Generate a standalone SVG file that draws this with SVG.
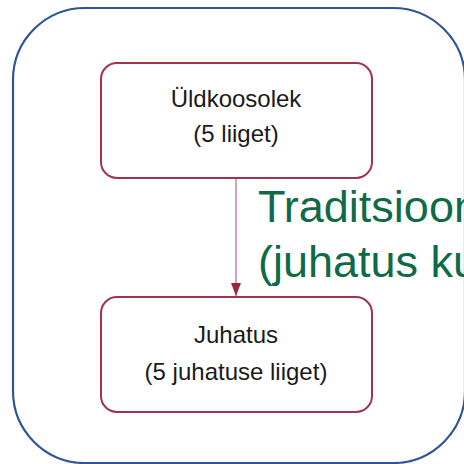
<svg xmlns="http://www.w3.org/2000/svg" width="464" height="464" viewBox="0 0 464 464">
<style>
.node rect{fill:#fff;stroke:#a5324d;stroke-width:2}
.nt{font-family:"Liberation Sans",Arial,sans-serif;font-size:24px;fill:#1a1a1a;text-anchor:middle}
.gt{font-family:"Liberation Sans",Arial,sans-serif;font-size:45px;fill:#0f6b47}
</style>
<defs>
<marker id="ah" markerWidth="13" markerHeight="10" refX="13" refY="5" orient="auto" markerUnits="userSpaceOnUse" viewBox="0 0 13 10">
<path d="M0,0 L13,5 L0,10 Z" fill="#9c2541"/>
</marker>
</defs>
<rect x="0" y="0" width="464" height="464" fill="#fff"/>
<rect id="frame" x="13" y="8" width="452" height="455" rx="72" fill="none" stroke="#2f5597" stroke-width="2.2"/>
<g id="connectors">
<line x1="236" y1="179" x2="236" y2="296" stroke="#d58a9c" stroke-width="1.6" marker-end="url(#ah)"/>
</g>
<g id="n1" class="node">
<rect x="101" y="63" width="271" height="115" rx="16"/>
<text class="nt" x="236" y="107">Üldkoosolek</text>
<text class="nt" x="236" y="142">(5 liiget)</text>
</g>
<g id="n2" class="node">
<rect x="101" y="297" width="271" height="115" rx="16"/>
<text class="nt" x="236" y="343">Juhatus</text>
<text class="nt" x="236" y="380">(5 juhatuse liiget)</text>
</g>
<g id="label">
<text class="gt" x="258" y="222">Traditsioon</text>
<text class="gt" x="258" y="277">(juhatus ku</text>
</g>
</svg>
